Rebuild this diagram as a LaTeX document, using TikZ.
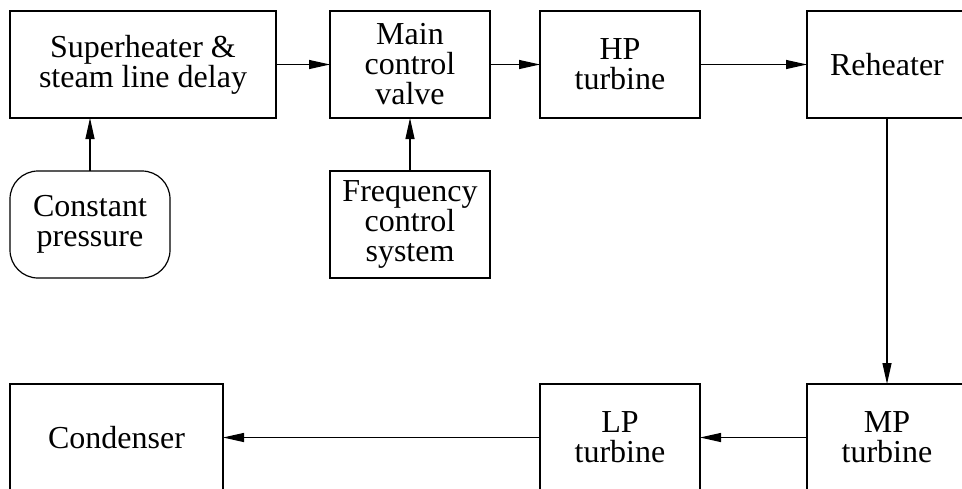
\documentclass[tikz,border=0pt]{standalone}
\usepackage{fontspec}
\setmainfont{Liberation Serif}
\usetikzlibrary{arrows.meta,positioning}

\begin{document}
\begin{tikzpicture}[x=1pt,y=-1pt,
    blk/.style={draw, line width=1.2pt, inner sep=0pt, outer sep=0pt,
        minimum width=160pt, minimum height=107pt, align=center,
        font=\fontsize{32}{30}\selectfont},
    flow/.style={line width=1.2pt, -{Triangle[length=21pt,width=9pt]}}]
    \useasboundingbox (0,0) rectangle (962,488);
    \clip (0,0) rectangle (962,488);

    % Top row
    \node[blk, minimum width=266pt] (sh) at (143,64.5) {Superheater \&\\steam line delay};
    \node[blk] (mcv) at (410,64.5) {Main\\control\\valve};
    \node[blk] (hp) at (620,64.5) {HP\\turbine};
    \node[blk] (rh) at (887,64.5) {Reheater};

    % Inputs
    \node[blk, rounded corners=28pt] (cp) at (90,224.5) {Constant\\pressure};
    \node[blk] (fcs) at (410,224.5) {Frequency\\control\\system};

    % Bottom row
    \node[blk] (mp) at (887,437.5) {MP\\turbine};
    \node[blk] (lp) at (620,437.5) {LP\\turbine};
    \node[blk, minimum width=213pt] (cond) at (116.5,437.5) {Condenser};

    % Arrows
    \draw[flow] (sh) -- (mcv);
    \draw[flow] (mcv) -- (hp);
    \draw[flow] (hp) -- (rh);
    \draw[flow] (cp.north) -- (cp.north |- sh.south);
    \draw[flow] (fcs) -- (mcv);
    \draw[flow] (rh) -- (mp);
    \draw[flow] (mp) -- (lp);
    \draw[flow] (lp) -- (cond);
\end{tikzpicture}
\end{document}
